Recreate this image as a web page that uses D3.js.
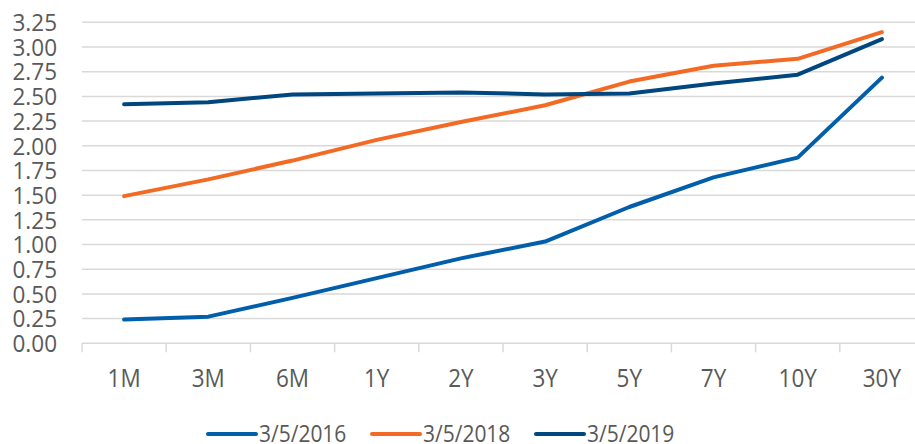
<!DOCTYPE html>
<html>
<head>
<meta charset="utf-8">
<script src="https://cdn.jsdelivr.net/npm/d3@7"></script>
<style>
  body { margin: 0; background: #fff; }
  svg { display: block; font-family: "Open Sans", sans-serif; }
</style>
</head>
<body>
<div id="chart"></div>
<script>
const maturities = ['1M', '3M', '6M', '1Y', '2Y', '3Y', '5Y', '7Y', '10Y', '30Y'];
const yields2016 = [0.24, 0.27, 0.46, 0.66, 0.86, 1.03, 1.38, 1.68, 1.88, 2.69];
const yields2018 = [1.49, 1.66, 1.85, 2.06, 2.24, 2.41, 2.65, 2.81, 2.88, 3.15];
const yields2019 = [2.42, 2.44, 2.52, 2.53, 2.54, 2.52, 2.53, 2.63, 2.72, 3.08];
const seriesNames = ['3/5/2016', '3/5/2018', '3/5/2019'];
const seriesColors = ['#005eab', '#f36a25', '#00467f'];
const yTicks = [0, 0.25, 0.5, 0.75, 1, 1.25, 1.5, 1.75, 2, 2.25, 2.5, 2.75, 3, 3.25];

const series = [yields2016, yields2018, yields2019].map((vals, i) => ({
  name: seriesNames[i],
  color: seriesColors[i],
  values: vals
}));

const width = 915, height = 444;

const svg = d3.select('#chart')
  .append('svg')
  .attr('width', width)
  .attr('height', height);

const x = d3.scaleBand()
  .domain(maturities)
  .range([82, 924]);

const y = d3.scaleLinear()
  .domain([0, 3.25])
  .range([343.3, 22.3]);

// gridlines
svg.append('g')
  .selectAll('line')
  .data(yTicks)
  .join('line')
  .attr('x1', 82)
  .attr('x2', width)
  .attr('y1', d => y(d))
  .attr('y2', d => y(d))
  .attr('stroke', '#d9d9d9')
  .attr('stroke-width', 1.5);

// y axis labels (slightly stretched vertically like the original export)
svg.append('g')
  .selectAll('text')
  .data(yTicks)
  .join('text')
  .attr('transform', d => `translate(57, ${y(d)}) scale(1, 1.08)`)
  .attr('dy', '0.36em')
  .attr('text-anchor', 'end')
  .style('font-size', '22.5px')
  .style('fill', '#595959')
  .text(d => d3.format('.2f')(d));

// x axis ticks
const gx = svg.append('g')
  .attr('transform', `translate(0, ${y(0)})`);
gx.selectAll('line.tick-mark')
  .data(maturities)
  .join('line')
  .attr('class', 'tick-mark')
  .attr('x1', d => x(d))
  .attr('x2', d => x(d))
  .attr('y1', 0)
  .attr('y2', 9)
  .attr('stroke', '#d9d9d9')
  .attr('stroke-width', 1.5);

gx.selectAll('text.tick-label')
  .data(maturities)
  .join('text')
  .attr('class', 'tick-label')
  .attr('transform', d => `translate(${x(d) + x.bandwidth() / 2}, 43.5) scale(1, 1.1)`)
  .attr('text-anchor', 'middle')
  .style('font-size', '22.5px')
  .style('fill', '#595959')
  .text(d => d);

// lines
const line = d3.line()
  .x((d, i) => x(maturities[i]) + x.bandwidth() / 2)
  .y(d => y(d))
  .curve(d3.curveLinear);

svg.append('g')
  .selectAll('path')
  .data(series)
  .join('path')
  .attr('d', d => line(d.values))
  .attr('fill', 'none')
  .attr('stroke', d => d.color)
  .attr('stroke-width', 4)
  .attr('stroke-linecap', 'round')
  .attr('stroke-linejoin', 'round');

// legend
const legendX = [208, 372, 536];
const legend = svg.append('g')
  .selectAll('g')
  .data(series)
  .join('g')
  .attr('transform', (d, i) => `translate(${legendX[i]}, 434)`);

legend.append('line')
  .attr('x1', 0)
  .attr('x2', 48)
  .attr('stroke', d => d.color)
  .attr('stroke-width', 4)
  .attr('stroke-linecap', 'round');

legend.append('text')
  .attr('transform', 'translate(51, 0) scale(1, 1.15)')
  .attr('dy', '0.33em')
  .style('font-size', '21px')
  .style('fill', '#595959')
  .text(d => d.name);
</script>
</body>
</html>
